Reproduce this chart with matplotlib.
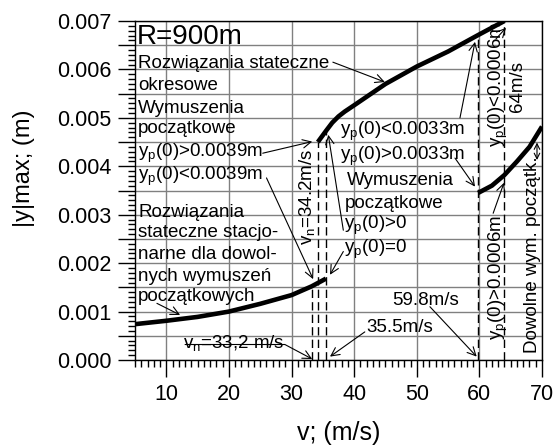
import numpy as np
import matplotlib
matplotlib.use("Agg")
import matplotlib.pyplot as plt
from matplotlib.ticker import MultipleLocator, FuncFormatter

plt.rcParams['font.family'] = ['Liberation Sans', 'DejaVu Sans']
plt.rcParams['mathtext.fontset'] = 'custom'
plt.rcParams['mathtext.rm'] = 'Liberation Sans'
plt.rcParams['mathtext.default'] = 'regular'

# ---------- dane ----------
v_stac = [5, 10, 15, 20, 25, 30, 33.2, 35.5]
y_stac = [0.00074, 0.00081, 0.00089, 0.00100, 0.00116, 0.00134, 0.00152, 0.00168]

v_okr = [34.2, 35.5, 36.5, 37.5, 38.5, 40, 45, 50, 55, 59.8, 64]
y_okr = [0.0045, 0.00473, 0.0049, 0.00503, 0.00513, 0.00526,
         0.0057, 0.00606, 0.00637, 0.00671, 0.0070]

v_prawa = [59.8, 62, 64, 66, 68, 70]
y_prawa = [0.00345, 0.0036, 0.00382, 0.0041, 0.0044, 0.00482]

# predkosci krytyczne (linie przerywane)
v_kryt = [33.2, 34.2, 35.5, 59.8, 64]
kryt_krzywa = ['stac', 'okr', 'okr', 'okr', 'okr']

FS = 13.5
SUB = 'y$_p$'

# ---------- wykres ----------
fig = plt.figure(figsize=(5.56, 4.47), dpi=100)
ax = fig.add_axes([135/556, 1 - 360/447, 407/556, 339/447])

ax.set_xlim(5, 70)
ax.set_ylim(0, 0.007)
ax.xaxis.set_major_locator(MultipleLocator(10))
ax.xaxis.set_minor_locator(MultipleLocator(1))
ax.yaxis.set_major_locator(MultipleLocator(0.0005))
ax.yaxis.set_minor_locator(MultipleLocator(0.0001))
ax.yaxis.set_major_formatter(FuncFormatter(
    lambda y, p: f"{y:.3f}" if abs(y / 0.001 - round(y / 0.001)) < 1e-6 else ""))
ax.tick_params(which='major', direction='out', length=12, width=1,
               labelsize=15.5, color='black')
ax.tick_params(axis='x', which='major', pad=5)
ax.tick_params(axis='y', which='major', pad=5)
ax.tick_params(which='minor', direction='out', length=5, width=1)
ax.grid(True, which='major', color='#808080', linewidth=1.0)
ax.set_axisbelow(True)
for s in ax.spines.values():
    s.set_linewidth(1.0)
    s.set_color('black')

ax.set_xlabel("v; (m/s)", fontsize=18)
ax.set_ylabel("|y|max; (m)", fontsize=17)
ax.xaxis.set_label_coords(0.5, -0.18)
ax.yaxis.set_label_coords(-0.245, 0.565)

# krzywe
ax.plot(v_stac, y_stac, color='black', lw=3.3, solid_capstyle='butt', zorder=3)
ax.plot(v_okr, y_okr, color='black', lw=3.3, solid_capstyle='butt', zorder=3)
ax.plot(v_prawa, y_prawa, color='black', lw=3.3, solid_capstyle='butt', zorder=3)

# linie przerywane do krzywych
for vk, kk in zip(v_kryt, kryt_krzywa):
    if kk == 'stac':
        top = np.interp(vk, v_stac, y_stac)
    else:
        top = np.interp(vk, v_okr, y_okr)
    ax.plot([vk, vk], [0, top], color='black', lw=1, ls=(0, (6, 3)), zorder=2)

# ---------- opisy ----------
ax.text(5.3, 0.00652, "R=900m", fontsize=20)

lewa_gora = ["Rozwiązania stateczne", "okresowe", "Wymuszenia", "początkowe",
             SUB + "(0)>0.0039m", SUB + "(0)<0.0039m"]
lewa_gora_y = [0.00602, 0.00558, 0.00511, 0.00468, 0.0042, 0.00372]
for t, yy in zip(lewa_gora, lewa_gora_y):
    ax.text(5.5, yy, t, fontsize=FS)

lewa_dol = ["Rozwiązania", "stateczne stacjo-", "narne dla dowol-",
            "nych wymuszeń", "początkowych"]
lewa_dol_y = [0.00296, 0.00253, 0.00208, 0.00163, 0.00122]
for t, yy in zip(lewa_dol, lewa_dol_y):
    ax.text(5.5, yy, t, fontsize=FS)

srodek = [SUB + "(0)<0.0033m", SUB + "(0)>0.0033m", "Wymuszenia",
          "początkowe", SUB + "(0)>0", SUB + "(0)=0"]
srodek_x = [37.7, 37.7, 38.8, 38.5, 38.3, 38.3]
srodek_y = [0.00465, 0.00414, 0.00361, 0.00313, 0.0027, 0.0022]
for t, xx, yy in zip(srodek, srodek_x, srodek_y):
    ax.text(xx, yy, t, fontsize=FS)

ax.text(42.0, 0.00058, "35.5m/s", fontsize=FS)
ax.text(46.0, 0.00114, "59.8m/s", fontsize=FS)
ax.text(12.7, 0.00024, "v$_n$=33,2 m/s", fontsize=FS)

pionowe = [(32.45, 0.00337, "v$_n$=34.2m/s"),
           (63.1, 0.00568, SUB + "(0)<0.0006m"),
           (66.1, 0.00564, "64m/s"),
           (63.1, 0.00171, SUB + "(0)>0.0006m"),
           (68.5, 0.00217, "Dowolne wym. początk.")]
for xx, yy, t in pionowe:
    ax.text(xx, yy, t, fontsize=FS, rotation=90, ha='center', va='center')

# strzalki (ogon -> grot)
strzalki = [((36.6, 0.00615), (44.9, 0.00574)),
            ((25.4, 0.00427), (33.3, 0.00451)),
            ((26.0, 0.00376), (33.45, 0.00167)),
            ((8.5, 0.00117), (12.2, 0.00093)),
            ((56.9, 0.0050), (59.3, 0.00657)),
            ((56.1, 0.00417), (59.3, 0.00358)),
            ((38.27, 0.00268), (35.87, 0.00465)),
            ((38.27, 0.00224), (36.14, 0.00176)),
            ((41.7, 0.00058), (36.14, 0.00007)),
            ((52.1, 0.0011), (59.57, 0.00007)),
            ((62.65, 0.00663), (64.25, 0.00686)),
            ((62.2, 0.00303), (63.93, 0.00366))]
for tail, tip in strzalki:
    ax.annotate("", xy=tip, xytext=tail,
                arrowprops=dict(arrowstyle='->', color='black', lw=0.8,
                                shrinkA=0, shrinkB=0, mutation_scale=15))

# strzalka przez napis v_n=33,2 m/s
ax.annotate("", xy=(33.3, 0.00002), xytext=(13.0, 0.00032),
            arrowprops=dict(arrowstyle='->', color='black', lw=0.8,
                            shrinkA=0, shrinkB=0, mutation_scale=15,
                            connectionstyle='angle,angleA=0,angleB=152,rad=0'))

# strzalka dwustronna
ax.annotate("", xy=(69.2, 0.00449), xytext=(69.2, 0.00413),
            arrowprops=dict(arrowstyle='<->', color='black', lw=0.8,
                            shrinkA=0, shrinkB=0, mutation_scale=10))

fig.savefig("out.png", dpi=100)
